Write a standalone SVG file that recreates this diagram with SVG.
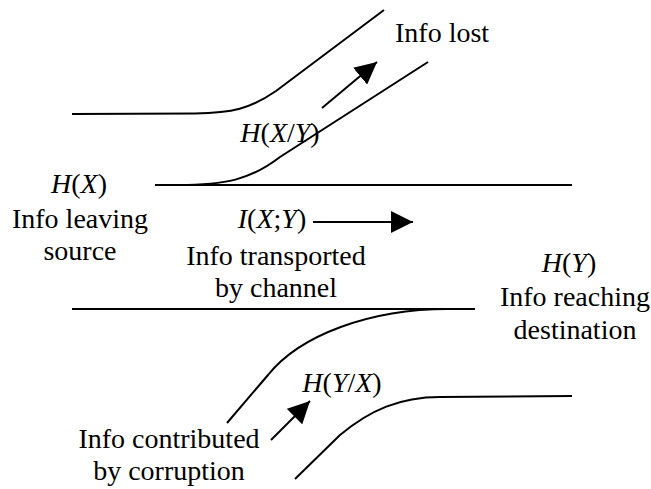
<svg xmlns="http://www.w3.org/2000/svg" width="651" height="489" viewBox="0 0 651 489">
<style>
text{font-family:"Liberation Serif","Times New Roman",serif;font-size:28px;fill:#000}
.m{text-anchor:middle}
.i{font-style:italic}
.ln{fill:none;stroke:#000;stroke-width:2}
</style>
<defs>
<marker id="ah" viewBox="0 0 22 22" refX="22" refY="11" markerWidth="22" markerHeight="22" markerUnits="userSpaceOnUse" orient="auto">
<path d="M0,0 L22,11 L0,22 Z" fill="#000"/>
</marker>
</defs>
<rect width="651" height="489" fill="#fff"/>
<g id="connectors">
<path class="ln" d="M72,114 L195,113.5 C232,113 250,109 276,91 L384,10"/>
<path class="ln" d="M178,185 C225,185 250,180 280,157 L428,62"/>
<path class="ln" d="M155,185 L572,185"/>
<path class="ln" d="M72,309 L475,309"/>
<path class="ln" d="M448,309 C370,309 300,335 268,375 L227,423"/>
<path class="ln" d="M572,396 L440,397 C400,397 370,410 340,435 L295,479"/>
<line class="ln" x1="322" y1="108" x2="377" y2="62" marker-end="url(#ah)"/>
<line class="ln" x1="313" y1="222" x2="413" y2="222" marker-end="url(#ah)"/>
<line class="ln" x1="271" y1="440" x2="310" y2="401" marker-end="url(#ah)"/>
</g>
<g id="info-lost"><text x="395" y="42">Info lost</text></g>
<g id="hxy"><text class="m" x="280" y="142"><tspan class="i">H</tspan>(<tspan class="i">X</tspan>/<tspan class="i">Y</tspan>)</text></g>
<g id="source">
<text class="m" x="79" y="193"><tspan class="i">H</tspan>(<tspan class="i">X</tspan>)</text>
<text class="m" x="80" y="228">Info leaving</text>
<text class="m" x="80" y="260">source</text>
</g>
<g id="channel">
<text class="m" x="272" y="228"><tspan class="i">I</tspan>(<tspan class="i">X</tspan>;<tspan class="i">Y</tspan>)</text>
<text class="m" x="276" y="265">Info transported</text>
<text class="m" x="276" y="297">by channel</text>
</g>
<g id="destination">
<text class="m" x="569" y="272"><tspan class="i">H</tspan>(<tspan class="i">Y</tspan>)</text>
<text class="m" x="575" y="306">Info reaching</text>
<text class="m" x="575" y="339">destination</text>
</g>
<g id="hyx"><text class="m" x="342" y="392"><tspan class="i">H</tspan>(<tspan class="i">Y</tspan>/<tspan class="i">X</tspan>)</text></g>
<g id="corruption">
<text class="m" x="169" y="448">Info contributed</text>
<text class="m" x="169" y="480">by corruption</text>
</g>
</svg>
